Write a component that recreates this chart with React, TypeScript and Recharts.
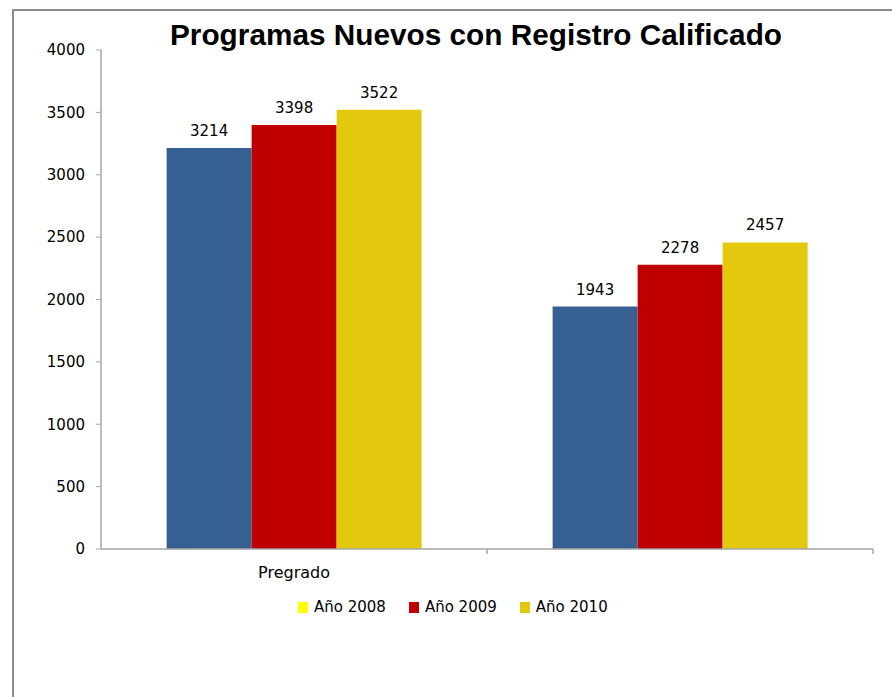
import { BarChart, Bar, XAxis, YAxis, LabelList } from "recharts";

const categories = ["Pregrado", ""];
const seriesNames = ["Año 2008", "Año 2009", "Año 2010"];
const seriesKeys = ["y2008", "y2009", "y2010"];
const values2008 = [3214, 1943];
const values2009 = [3398, 2278];
const values2010 = [3522, 2457];
const yTicks = [0, 500, 1000, 1500, 2000, 2500, 3000, 3500, 4000];

const BAR_COLORS = ["#366092", "#C00000", "#E3C90E"];
// the original legend shows a bright yellow swatch for 2008
const LEGEND_COLORS = ["#FFFF00", "#C00000", "#E3C90E"];
const AXIS = "#A6A6A6";
const FONT = "'DejaVu Sans', sans-serif";
const LABEL_GAP = 18;

const data = categories.map((name, i) => ({
  name,
  y2008: values2008[i],
  y2009: values2009[i],
  y2010: values2010[i],
}));

// category label plus an Excel-style tick mark on the right edge of each band
function CategoryTick(props: any) {
  const { x, y, payload } = props;
  const half = payload && payload.offset ? payload.offset : 193;
  const axisY = y - LABEL_GAP;
  return (
    <g>
      <line x1={x + half} x2={x + half} y1={axisY} y2={axisY + 5} stroke={AXIS} strokeWidth={1.5} />
      <text x={x} y={y} dy="0.71em" textAnchor="middle" fontSize={16} fontFamily={FONT} fill="#000">
        {payload.value}
      </text>
    </g>
  );
}

export default function App() {
  return (
    <div style={{ position: "absolute", left: 0, top: 0, width: 892, height: 697, background: "#fff", overflow: "hidden" }}>
      {/* outer frame, only left and top edges visible */}
      <div
        style={{
          position: "absolute",
          left: 12,
          top: 9,
          width: 1000,
          height: 800,
          borderLeft: "2px solid #8C8C8C",
          borderTop: "2px solid #8C8C8C",
        }}
      />
      <svg width={892} height={60} style={{ position: "absolute", left: 0, top: 0 }}>
        <text
          x={476}
          y={45}
          textAnchor="middle"
          fontFamily="'Liberation Sans', Arial, sans-serif"
          fontWeight="bold"
          fontSize={29}
          textLength={612}
          lengthAdjust="spacingAndGlyphs"
          fill="#000"
        >
          Programas Nuevos con Registro Calificado
        </text>
      </svg>
      <div style={{ position: "absolute", left: 0, top: 0 }}>
        <BarChart
          width={892}
          height={697}
          data={data}
          margin={{ top: 50, right: 19, left: 0, bottom: 118 }}
          barCategoryGap="17%"
          barGap={0}
        >
          <XAxis
            dataKey="name"
            height={30}
            axisLine={{ stroke: AXIS, strokeWidth: 1.5 }}
            tickLine={false}
            tickSize={0}
            tickMargin={LABEL_GAP}
            tick={<CategoryTick />}
          />
          <YAxis
            width={101}
            domain={[0, 4000]}
            ticks={yTicks}
            interval={0}
            axisLine={{ stroke: AXIS, strokeWidth: 1.5 }}
            tickLine={{ stroke: AXIS }}
            tickSize={5}
            tickMargin={11}
            tick={{ fontSize: 15, fill: "#000", fontFamily: FONT }}
          />
          {seriesKeys.map((key, i) => (
            <Bar key={key} dataKey={key} name={seriesNames[i]} fill={BAR_COLORS[i]} isAnimationActive={false}>
              <LabelList
                dataKey={key}
                position="top"
                offset={12}
                style={{ fontSize: 15, fill: "#000", fontFamily: FONT }}
              />
            </Bar>
          ))}
        </BarChart>
      </div>
      <div
        style={{
          position: "absolute",
          left: 298,
          top: 598,
          display: "flex",
          alignItems: "center",
          fontFamily: FONT,
          fontSize: 15,
          color: "#000",
        }}
      >
        {seriesNames.map((n, i) => (
          <div key={n} style={{ display: "flex", alignItems: "center", marginRight: 23 }}>
            <span style={{ width: 10, height: 11, background: LEGEND_COLORS[i], marginRight: 6, display: "inline-block" }} />
            <span>{n}</span>
          </div>
        ))}
      </div>
    </div>
  );
}
